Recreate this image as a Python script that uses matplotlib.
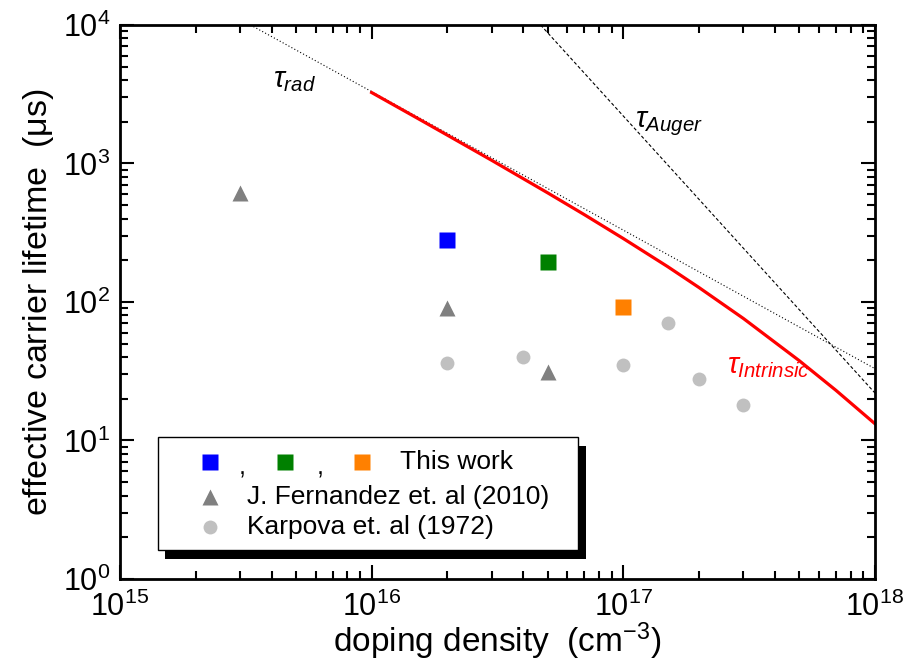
import numpy as np
import matplotlib
matplotlib.use('Agg')
import matplotlib.pyplot as plt
from matplotlib.patches import Rectangle

plt.rcParams['font.family'] = ['Liberation Sans', 'DejaVu Sans']
plt.rcParams['mathtext.fontset'] = 'custom'
plt.rcParams['mathtext.rm'] = 'Liberation Sans'
plt.rcParams['mathtext.it'] = 'Liberation Sans:italic'

# datos

# this work
dens_work = [2e16, 5e16, 1e17]
tau_work = [280, 195, 92]
col_work = ['#0000ff', '#008000', '#ff8000']

# J. Fernandez et. al (2010)
dens_fer = [3e15, 2e16, 5e16]
tau_fer = [610, 90, 31]

# Karpova et. al (1972)
dens_kar = [2e16, 4e16, 1e17, 1.5e17, 2e17, 3e17]
tau_kar = [36, 40, 35, 70, 28, 18]

# tau_rad (recta en log-log)
dens_rad = [3.3e15, 1e18]
tau_rad = [1e4, 33]

# tau_Auger
dens_aug = [4.69e16, 1e18]
tau_aug = [1e4, 22]

# tau_intrinsic
dens_int = [1e16, 1.5e16, 2e16, 3e16, 5e16, 7e16, 1e17, 1.5e17, 2e17, 3e17, 5e17, 7e17, 1e18]
tau_int = [3250, 2150, 1600, 1053, 614, 427, 287, 180, 127, 76, 37.7, 23.0, 13.2]

fig = plt.figure(figsize=(9.19, 6.62), dpi=100)
ax = fig.add_axes([0.1306, 0.1254, 0.8215, 0.8369])

ax.plot(dens_rad, tau_rad, color='k', ls=(0, (1, 2)), lw=0.8)
ax.plot(dens_aug, tau_aug, color='k', ls=(0, (3, 2)), lw=0.8)
ax.plot(dens_int, tau_int, color='#ff0000', lw=2.3)

for d, t, c in zip(dens_work, tau_work, col_work):
    ax.plot(d, t, 's', color=c, ms=11.5, mec='none')
ax.plot(dens_fer, tau_fer, '^', color='#808080', ms=12, mec='none', ls='none')
ax.plot(dens_kar, tau_kar, 'o', color='#c0c0c0', ms=10, mec='none', ls='none')

ax.text(4.06e15, 4000, r'$\tau_{rad}$', fontsize=21, ha='left', va='center')
ax.text(1.11e17, 1930, r'$\tau_{Auger}$', fontsize=21, ha='left', va='center')
ax.text(2.58e17, 34.5, r'$\tau_{Intrinsic}$', fontsize=21, color='#ff0000', ha='left', va='center')

ax.set_xscale('log')
ax.set_yscale('log')
ax.set_xlim(1e15, 1e18)
ax.set_ylim(1e0, 1e4)

ax.tick_params(which='both', direction='in', top=True, right=True, width=1.5)
ax.tick_params(which='major', length=10, labelsize=22)
ax.tick_params(which='minor', length=6)
ax.tick_params(axis='x', which='major', pad=9)
ax.tick_params(axis='y', which='major', pad=7)
for s in ax.spines.values():
    s.set_linewidth(2)

ax.set_xlabel(r'doping density  (cm$^{-3}$)', fontsize=24, labelpad=-2)
ax.set_ylabel(r'effective carrier lifetime  ($\mathrm{\mu}$s)', fontsize=24.5, labelpad=5)

# leyenda a mano con sombra negra
tr = ax.transAxes
ax.add_patch(Rectangle((0.060, 0.036), 0.557, 0.204, transform=tr, facecolor='k', edgecolor='none', zorder=5, clip_on=False))
ax.add_patch(Rectangle((0.050, 0.052), 0.557, 0.204, transform=tr, facecolor='w', edgecolor='k', lw=1, zorder=6, clip_on=False))

y1, y2, y3 = 0.211, 0.148, 0.094
ax.plot(0.119, y1, 's', color=col_work[0], ms=11.5, mec='none', transform=tr, zorder=7, clip_on=False)
ax.text(0.162, y1 - 0.01, ',', fontsize=18, ha='center', va='center', transform=tr, zorder=7)
ax.plot(0.219, y1, 's', color=col_work[1], ms=11.5, mec='none', transform=tr, zorder=7, clip_on=False)
ax.text(0.265, y1 - 0.01, ',', fontsize=18, ha='center', va='center', transform=tr, zorder=7)
ax.plot(0.320, y1, 's', color=col_work[2], ms=11.5, mec='none', transform=tr, zorder=7, clip_on=False)
ax.text(0.371, y1, 'This work', fontsize=19, ha='left', va='center', transform=tr, zorder=7)
ax.plot(0.119, y2, '^', color='#808080', ms=12, mec='none', transform=tr, zorder=7, clip_on=False)
ax.text(0.168, y2, 'J. Fernandez et. al (2010)', fontsize=19, ha='left', va='center', transform=tr, zorder=7)
ax.plot(0.119, y3, 'o', color='#c0c0c0', ms=10, mec='none', transform=tr, zorder=7, clip_on=False)
ax.text(0.168, y3, 'Karpova et. al (1972)', fontsize=19, ha='left', va='center', transform=tr, zorder=7)

fig.savefig('out.png', dpi=100)
